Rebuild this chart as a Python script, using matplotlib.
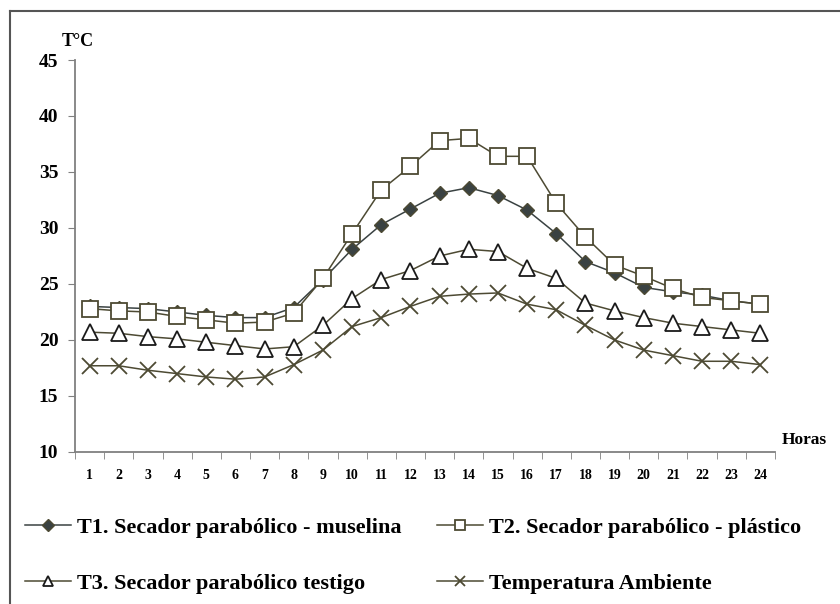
import numpy as np
import matplotlib
matplotlib.use("Agg")
import matplotlib.pyplot as plt
from matplotlib.lines import Line2D

plt.rcParams['font.family'] = 'Liberation Serif'
plt.rcParams['font.weight'] = 'bold'

# data
horas = list(range(1, 25))
t1 = [23.0, 22.9, 22.8, 22.5, 22.2, 22.0, 22.0, 22.9, 25.4, 28.1, 30.3, 31.7,
      33.1, 33.6, 32.9, 31.6, 29.5, 27.0, 26.0, 24.7, 24.3, 24.0, 23.5, 23.2]
t2 = [22.8, 22.6, 22.5, 22.1, 21.8, 21.5, 21.6, 22.4, 25.5, 29.5, 33.4, 35.5,
      37.8, 38.0, 36.4, 36.4, 32.2, 29.2, 26.7, 25.7, 24.6, 23.8, 23.5, 23.2]
t3 = [20.7, 20.6, 20.3, 20.1, 19.8, 19.5, 19.2, 19.4, 21.3, 23.7, 25.4, 26.2,
      27.5, 28.1, 27.9, 26.4, 25.5, 23.3, 22.6, 22.0, 21.5, 21.2, 20.9, 20.6]
amb = [17.7, 17.7, 17.3, 17.0, 16.7, 16.5, 16.7, 17.8, 19.1, 21.2, 22.0, 23.0,
       23.9, 24.1, 24.2, 23.2, 22.7, 21.3, 20.0, 19.1, 18.6, 18.1, 18.1, 17.8]

labels = ['T1. Secador parabólico - muselina',
          'T2. Secador parabólico - plástico',
          'T3. Secador parabólico testigo',
          'Temperatura Ambiente']

olive = '#4d4a33'
slate = '#3a4242'

styles = [
    dict(color=slate, marker='D', mfc=slate, mec=olive, mew=1.0),
    dict(color=olive, marker='s', mfc='white', mec=olive, mew=1.3),
    dict(color=olive, marker='^', mfc='white', mec='#1a1a1a', mew=1.3),
    dict(color=olive, marker='x', mec=olive, mew=1.3),
]
sizes = [7.5, 11, 11, 11]
leg_sizes = [6, 7.5, 7.5, 7.5]

fig = plt.figure(figsize=(8.4, 6.04), dpi=100)
ax = fig.add_axes([75/840, 1-452/604, 700/840, 392/604])

handles = []
for ys, st, ms, lms in zip([t1, t2, t3, amb], styles, sizes, leg_sizes):
    ax.plot(horas, ys, lw=1.1, ms=ms, **st)
    handles.append(Line2D([], [], lw=1.1, ms=lms, **st))

ax.set_xlim(0.5, 24.5)
ax.set_ylim(10, 45)
ax.set_yticks(np.arange(10, 46, 5))
ax.set_xticks(horas)
ax.set_xticks(np.arange(0.5, 25, 1), minor=True)
ax.tick_params(axis='x', which='major', length=0, pad=12.5, labelsize=10)
ax.tick_params(axis='x', which='minor', length=5, direction='out', color='#808080')
ax.tick_params(axis='y', length=5, direction='out', color='#808080', labelsize=14, pad=7)
for s in ['top', 'right']:
    ax.spines[s].set_visible(False)
for s in ['left', 'bottom']:
    ax.spines[s].set_color('#808080')
    ax.spines[s].set_linewidth(1.3)

fig.text(62/840, 1-42/604, 'T°C', fontsize=13, fontweight='bold', va='center', ha='left')
fig.text(782/840, 1-440/604, 'Horas', fontsize=12.5, fontweight='bold', va='center', ha='left')

# outer frame (left and top only visible)
fig.add_artist(Line2D([10/840, 10/840], [0, 1-11/604], color='#555555', lw=1.5))
fig.add_artist(Line2D([10/840, 1], [1-11/604, 1-11/604], color='#555555', lw=1.5))

order = [0, 2, 1, 3]
fig.legend([handles[i] for i in order], [labels[i] for i in order],
           ncol=2, loc='upper left', bbox_to_anchor=(25/840, 1-517/604),
           frameon=False, fontsize=16, handlelength=2.07, borderpad=0,
           borderaxespad=0, labelspacing=1.6, columnspacing=1.6,
           handletextpad=0.27)

fig.savefig('out.png', dpi=100)
